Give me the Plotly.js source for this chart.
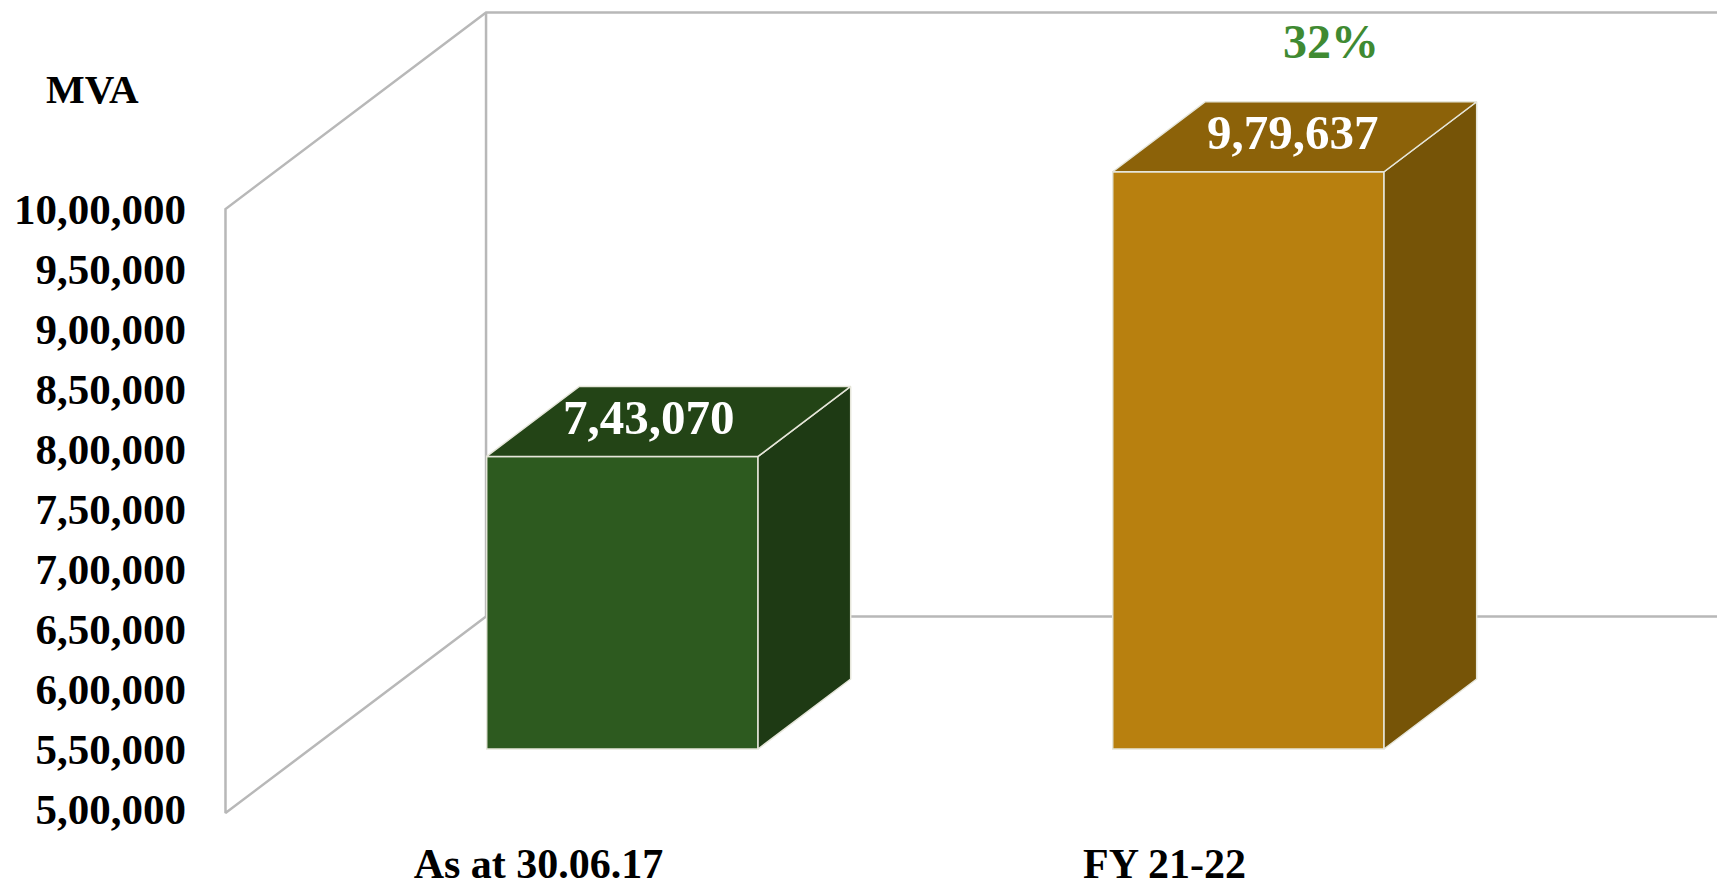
<!DOCTYPE html>
<html>
<head>
<meta charset="utf-8">
<script src="https://cdn.plot.ly/plotly-3.0.1.min.js"></script>
<style>html,body{margin:0;padding:0;background:#fff;overflow:hidden}</style>
</head>
<body>
<div id="chart" style="width:1717px;height:882px"></div>
<script>
const categories = ["As at 30.06.17", "FY 21-22"];
const values = [743070, 979637];
const valueLabels = ["7,43,070", "9,79,637"];
const tickValues = [500000, 550000, 600000, 650000, 700000, 750000, 800000, 850000, 900000, 950000, 1000000];
const tickLabels = ["5,00,000", "5,50,000", "6,00,000", "6,50,000", "7,00,000", "7,50,000", "8,00,000", "8,50,000", "9,00,000", "9,50,000", "10,00,000"];
const unitLabel = "MVA";
const growthLabel = "32%";

const frontColors = ["#2d5a1f", "#b8800f"];
const topColors = ["#234416", "#8c6209"];
const sideColors = ["#1e3a14", "#765407"];

const FONT = "'Liberation Serif', serif";
const axisMin = 500000, axisMax = 1000000;
const xs = categories.map((_, i) => i);
const barWidth = 0.4334, barDepthX = 0.148, barDepthY = 58164;
const wallFrontX = -0.634, wallBackX = -0.2178, wallDepthY = 163750, wallFloor = 496667, xMin = -0.6907, xMax = 1.7486;
const wallLine = {color: "#b8b8b8", width: 2.5};

const wall = (x, y) => ({type: "scatter", mode: "lines", x, y, xaxis: "x", yaxis: "y", line: wallLine, hoverinfo: "skip", showlegend: false});
const traces = [
  wall([xMax, wallBackX, wallFrontX, wallFrontX, wallBackX, xMax],
       [axisMax + wallDepthY, axisMax + wallDepthY, axisMax, wallFloor, wallFloor + wallDepthY, wallFloor + wallDepthY]),
  wall([wallBackX, wallBackX], [wallFloor + wallDepthY, axisMax + wallDepthY]),
  {type: "bar", x: xs, y: values.map(v => v - axisMin), base: axisMin, width: barWidth, xaxis: "x", yaxis: "y2",
   marker: {color: frontColors, line: {color: "#e6e6da", width: 1.5}}, hoverinfo: "skip", showlegend: false}
];
values.forEach((v, i) => {
  const l = i - barWidth / 2, r = i + barWidth / 2;
  const poly = (x, y, c) => traces.push({type: "scatter", mode: "lines", x, y, fill: "toself", fillcolor: c,
    xaxis: "x", yaxis: "y2", line: {color: "#e6e6da", width: 1.5}, hoverinfo: "skip", showlegend: false});
  poly([r, r + barDepthX, r + barDepthX, r, r],
       [axisMin, axisMin + barDepthY, v + barDepthY, v, axisMin], sideColors[i]);
  poly([l, l + barDepthX, r + barDepthX, r, l],
       [v, v + barDepthY, v + barDepthY, v, v], topColors[i]);
});

const labelShiftX = [27, 45];
const annotations = values.map((v, i) => ({
  x: i, y: v, xref: "x", yref: "y2", text: "<b>" + valueLabels[i] + "</b>", showarrow: false,
  xshift: labelShiftX[i], yshift: 39, font: {family: FONT, size: 49, color: "#ffffff"}
}));
annotations.push({x: 1.132, y: 1139583, xref: "x", yref: "y", text: "<b>" + growthLabel + "</b>", showarrow: false,
  font: {family: FONT, size: 48, color: "#3f8a32"}});
annotations.push({x: (92 - 190) / (1717 - 190), y: 1 - 89 / 837, xref: "paper", yref: "paper",
  xanchor: "center", yanchor: "middle",
  text: "<b>" + unitLabel + "</b>", showarrow: false, font: {family: FONT, size: 41, color: "#000000"}});

const layout = {
  width: 1717, height: 882,
  margin: {l: 190, r: 0, t: 0, b: 45},
  paper_bgcolor: "#ffffff", plot_bgcolor: "#ffffff",
  showlegend: false,
  bargap: 0,
  xaxis: {range: [xMin, xMax], tickmode: "array", tickvals: xs.map(i => i - 0.134), ticktext: categories.map(c => "<b>" + c + "</b>"),
          showgrid: false, zeroline: false, showline: false, ticks: "", ticklabelstandoff: -2, tickfont: {family: FONT, size: 42, color: "#000000"}},
  yaxis: {range: [476667, 1174167], tickmode: "array", tickvals: tickValues, ticktext: tickLabels.map(t => "<b>" + t + "</b>"),
          showgrid: false, zeroline: false, showline: false, ticks: "", ticklabelstandoff: 3, tickfont: {family: FONT, size: 43, color: "#000000"}},
  yaxis2: {range: [426880, 1122351], overlaying: "y", visible: false, showgrid: false, zeroline: false},
  annotations
};
Plotly.newPlot("chart", traces, layout, {displayModeBar: false, staticPlot: true});
</script>
</body>
</html>
